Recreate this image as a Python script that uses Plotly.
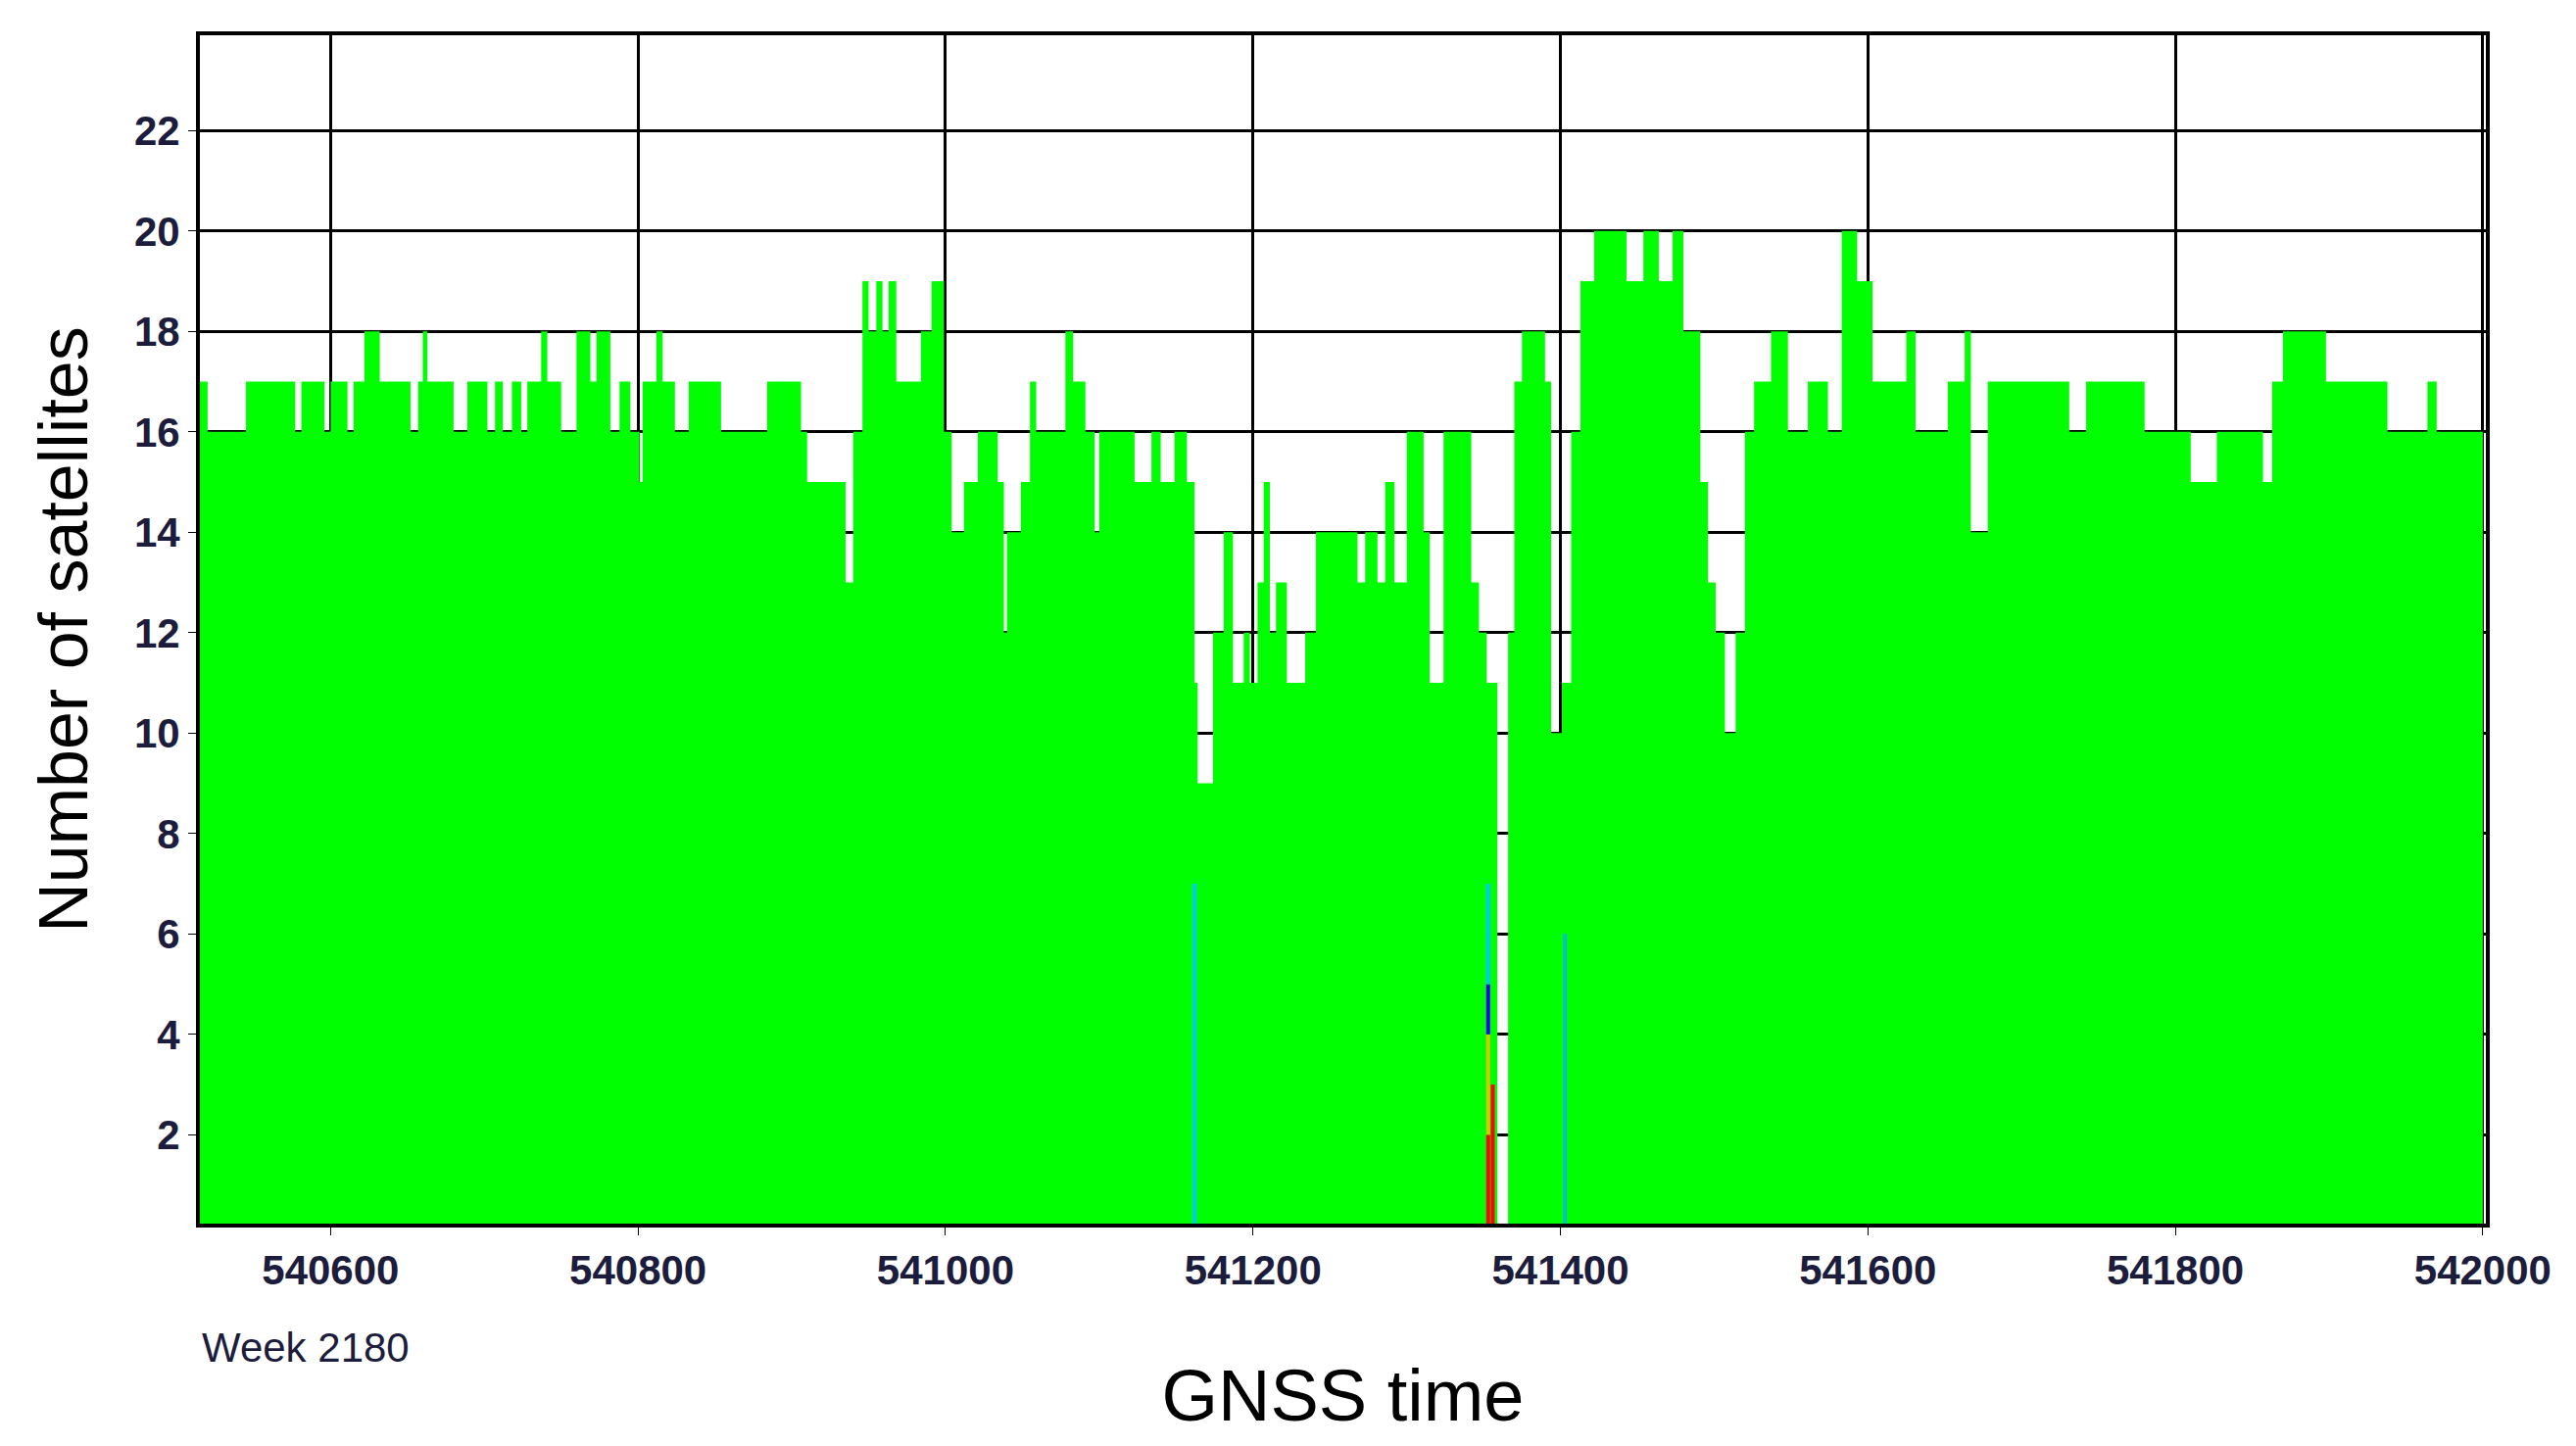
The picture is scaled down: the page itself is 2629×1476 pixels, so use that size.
import plotly.graph_objects as go

# step start times (GNSS seconds of week) and satellite counts
times = [540515,540520,540545,540577,540581,540596,540600,540611,540615,540622,540632,540652,540657,540660,540663,
         540680,540689,540702,540707,540712,540718,540724,540728,540737,540741,540750,540760,540769,540773,540782,
         540788,540795,540801,540803,540812,540816,540824,540833,540854,540884,540906,540910,540935,540940,540946,
         540950,540955,540959,540963,540968,540979,540984,540991,540999,541004,541012,541021,541034,541038,541040,
         541049,541055,541059,541078,541083,541091,541097,541100,541112,541123,541134,541140,541149,541157,541162,
         541164,541174,541181,541187,541194,541198,541203,541207,541211,541215,541222,541234,541241,541268,541273,
         541281,541286,541292,541300,541311,541315,541324,541342,541347,541352,541359,541366,541370,541375,541390,
         541394,541401,541407,541413,541422,541443,541454,541464,541473,541480,541491,541496,541501,541507,541514,
         541520,541526,541537,541548,541561,541574,541583,541593,541603,541625,541631,541652,541663,541667,541678,
         541727,541731,541742,541780,541810,541827,541857,541863,541870,541898,541938,541964,541970,542000]
counts = [17,16,17,16,17,16,17,16,17,18,17,16,17,18,17,
          16,17,16,17,16,17,16,17,18,17,16,18,17,18,16,
          17,16,15,17,18,17,16,17,16,17,16,15,13,16,19,
          18,19,18,19,17,17,18,19,16,14,15,16,15,12,14,
          15,17,16,18,17,16,14,16,16,15,16,15,16,15,11,
          9,12,14,11,12,11,13,15,12,13,11,12,14,13,14,
          13,15,13,16,14,11,16,13,12,11,0,12,17,18,17,
          10,11,16,19,20,19,20,19,20,18,15,13,12,10,12,
          16,17,18,16,17,16,20,19,17,18,16,17,18,14,17,
          17,16,17,16,15,16,15,17,18,17,16,17,16,17,17]

# thin coloured constellation bars: time, bottom, top, colour
bar_t = [541162, 541353, 541353, 541353, 541353, 541356, 541403]
bar_lo = [0, 0, 2, 4, 5, 0, 0]
bar_hi = [7, 2, 4, 5, 7, 3, 6]
bar_c = ["#00c8ff", "#ff0000", "#d4c800", "#0000ff", "#00c8ff", "#ff0000", "#00c0c8"]

fig = go.Figure()
fig.add_trace(go.Scatter(x=times, y=counts, mode="lines", line=dict(shape="hv", width=0, color="#00ff00"),
                         fill="tozeroy", fillcolor="#00ff00", showlegend=False))
for t, lo, hi, c in zip(bar_t, bar_lo, bar_hi, bar_c):
    fig.add_trace(go.Scatter(x=[t, t], y=[lo, hi], mode="lines", line=dict(color=c, width=4), showlegend=False))

tickfont = dict(family="Arial, Liberation Sans", size=42, color="#1c1c3c", weight="bold")
fig.update_layout(
    width=2629, height=1476, margin=dict(l=196, r=100, t=28, b=235),
    paper_bgcolor="white", plot_bgcolor="white",
    xaxis=dict(range=[540515, 542002], tickvals=[540600,540800,541000,541200,541400,541600,541800,542000],
               ticktext=["540600","540800","541000","541200","541400","541600","541800","542000"],
               showgrid=True, gridcolor="black", gridwidth=3, zeroline=False, layer="above traces",
               showline=True, linecolor="black", linewidth=4, mirror=True,
               ticks="outside", ticklen=8, tickcolor="black", tickfont=tickfont,
               title=dict(text="GNSS time", font=dict(family="Liberation Sans", size=74, color="black"), standoff=80)),
    yaxis=dict(range=[0.23, 23.9], tickvals=list(range(2, 24, 2)), showgrid=True, gridcolor="black", gridwidth=3,
               zeroline=False, showline=True, linecolor="black", linewidth=4, mirror=True, layer="above traces",
               ticks="outside", ticklen=8, tickcolor="black", tickfont=tickfont,
               title=dict(text="Number of satellites", font=dict(family="Liberation Sans", size=70, color="black"), standoff=25)),
    annotations=[dict(text="Week 2180", xref="paper", yref="paper", x=0.0, y=-0.083, xanchor="left", yanchor="top",
                      showarrow=False, font=dict(family="Arial, Liberation Sans", size=42, color="#1c1c3c"))],
)
fig.write_html("out.html")
